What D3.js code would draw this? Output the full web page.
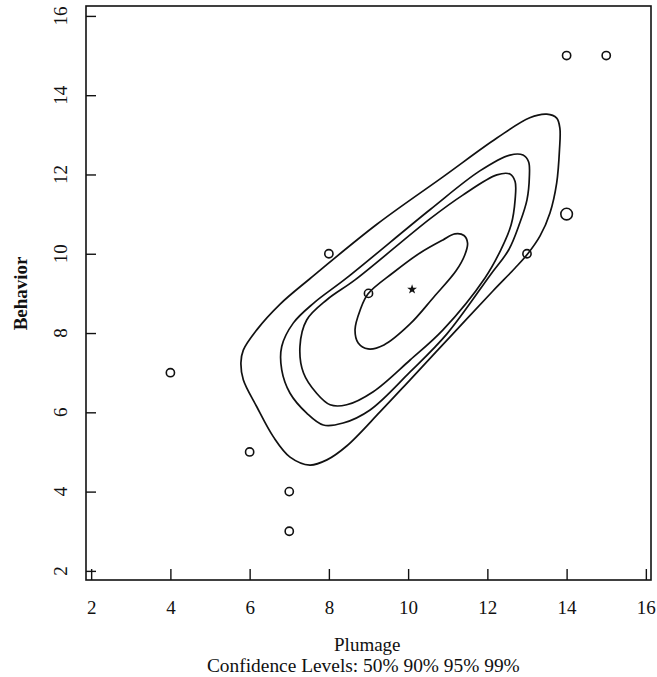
<!DOCTYPE html>
<html>
<head>
<meta charset="utf-8">
<script src="https://cdn.jsdelivr.net/npm/d3@7"></script>
<style>
  body { margin: 0; background: #fff; }
  svg text { font-family: "Liberation Serif", "DejaVu Serif", serif; fill: #111; }
</style>
</head>
<body>
<div id="chart_div"></div>
<script>
// observations (Plumage, Behavior); count = number of birds at that spot
const plumage  = [4, 6, 7, 7, 8, 9, 13, 14, 14, 15];
const behavior = [7, 5, 4, 3, 10, 9, 10, 11, 15, 15];
const counts   = [1, 1, 1, 1, 1, 1, 1, 2, 1, 1];
const centroid = [10.1, 9.1];

const xTicks = [2, 4, 6, 8, 10, 12, 14, 16];
const yTicks = [2, 4, 6, 8, 10, 12, 14, 16];
const levels = ['50%', '90%', '95%', '99%'];

// contour outlines, [plumage, behavior]
const contour50 = [[11.18,10.50],[11.41,10.46],[11.50,10.27],[11.43,9.97],[11.21,9.57],[10.65,8.91],
  [10.05,8.23],[9.39,7.70],[8.99,7.60],[8.74,7.75],[8.66,8.08],[8.79,8.58],[8.99,8.99],[9.62,9.52],
  [10.30,10.02],[10.88,10.35]];
const contour90 = [[12.24,11.99],[12.57,12.01],[12.70,11.82],[12.70,11.36],[12.60,10.73],[12.34,10.10],
  [11.94,9.39],[10.88,8.08],[10.05,7.32],[9.12,6.52],[8.45,6.19],[8.03,6.19],[7.69,6.48],[7.36,6.99],
  [7.27,7.66],[7.44,8.33],[7.95,8.84],[8.66,9.34],[10.55,10.88],[11.38,11.48]];
const contour95 = [[11.81,12.09],[12.57,12.49],[12.90,12.49],[13.04,12.32],[13.06,11.94],[13.00,11.36],
  [12.82,10.78],[12.54,10.10],[12.07,9.46],[10.98,7.98],[10.05,7.02],[9.04,6.06],[8.36,5.73],[7.86,5.68],
  [7.44,5.98],[7.02,6.48],[6.81,7.07],[6.81,7.66],[7.10,8.25],[7.61,8.75],[8.45,9.39],[10.55,11.11]];
const contour99 = [[13.50,13.52],[13.75,13.42],[13.83,13.17],[13.82,12.62],[13.75,11.79],[13.58,11.03],
  [13.33,10.45],[13.02,10.00],[12.70,9.64],[12.14,9.06],[11.13,7.98],[10.05,6.82],[9.29,6.01],[8.45,5.15],
  [7.95,4.80],[7.52,4.67],[7.02,4.87],[6.60,5.38],[6.18,6.14],[5.84,6.82],[5.78,7.25],[5.84,7.57],
  [6.18,8.08],[6.77,8.73],[7.52,9.37],[9.22,10.75],[10.88,11.94],[12.24,12.92],[13.07,13.43]];

function makePlot() {
  const width = 657, height = 677;

  const xScale = d3.scaleLinear().domain([1.87, 16.13]).range([86, 651]);
  const yScale = d3.scaleLinear().domain([1.77, 16.25]).range([580, 6]);
  const rScale = d3.scaleSqrt().domain([0, 2]).range([0, 5.8]);

  const svg = d3.select('#chart_div').append('svg')
      .attr('width', width)
      .attr('height', height);

  // frame
  svg.append('rect')
    .attr('x', xScale.range()[0])
    .attr('y', yScale.range()[1])
    .attr('width', xScale.range()[1] - xScale.range()[0])
    .attr('height', yScale.range()[0] - yScale.range()[1])
    .attr('fill', 'none')
    .attr('stroke', '#111')
    .attr('stroke-width', 1.6);

  // ticks point inward
  const xAxis = svg.append('g')
    .attr('transform', `translate(0, ${yScale.range()[0]})`)
    .call(d3.axisBottom(xScale).tickValues(xTicks).tickSize(-11).tickPadding(21));
  xAxis.select('.domain').remove();
  xAxis.selectAll('line').attr('stroke', '#111').attr('stroke-width', 1.4);
  xAxis.selectAll('text')
    .style('font-family', '"Liberation Serif", serif')
    .style('font-size', '19px')
    .attr('fill', '#111');

  const yAxis = svg.append('g')
    .attr('transform', `translate(${xScale.range()[0]}, 0)`)
    .call(d3.axisLeft(yScale).tickValues(yTicks).tickSize(-10).tickFormat(''));
  yAxis.select('.domain').remove();
  yAxis.selectAll('line').attr('stroke', '#111').attr('stroke-width', 1.4);

  svg.append('g').selectAll('text')
    .data(yTicks)
    .enter()
    .append('text')
    .attr('transform', function (d) { return `translate(67, ${yScale(d)}) rotate(-90)`; })
    .attr('text-anchor', 'middle')
    .style('font-size', '19px')
    .text(function (d) { return d; });

  // axis titles
  svg.append('text')
    .attr('transform', `translate(27, ${yScale(9.0)}) rotate(-90)`)
    .attr('text-anchor', 'middle')
    .style('font-size', '19px')
    .style('font-weight', 'bold')
    .text('Behavior');

  svg.append('text')
    .attr('x', xScale(8.97))
    .attr('y', 651)
    .attr('text-anchor', 'middle')
    .style('font-size', '19px')
    .text('Plumage');

  svg.append('text')
    .attr('x', xScale(8.87))
    .attr('y', 672)
    .attr('text-anchor', 'middle')
    .style('font-size', '19.4px')
    .text('Confidence Levels: ' + levels.join(' '));

  // contours
  const contourLine = d3.line()
      .x(function (d) { return xScale(d[0]); })
      .y(function (d) { return yScale(d[1]); })
      .curve(d3.curveCatmullRomClosed.alpha(0.5));

  svg.append('g').selectAll('path')
    .data([contour50, contour90, contour95, contour99])
    .enter()
    .append('path')
    .attr('class', function (d, i) { return `contour-${levels[i]}`; })
    .attr('fill', 'none')
    .attr('stroke', '#111')
    .attr('stroke-width', 1.7)
    .attr('d', contourLine);

  // observations
  const pts = plumage.map(function (p, i) {
    return { x: p, y: behavior[i], n: counts[i] };
  });

  svg.append('g').selectAll('circle')
    .data(pts)
    .enter()
    .append('circle')
    .attr('cx', function (d) { return xScale(d.x); })
    .attr('cy', function (d) { return yScale(d.y); })
    .attr('r', function (d) { return rScale(d.n); })
    .attr('fill', 'none')
    .attr('stroke', '#111')
    .attr('stroke-width', 1.6);

  // centroid
  svg.append('path')
    .attr('d', d3.symbol().type(d3.symbolStar).size(30)())
    .attr('transform', `translate(${xScale(centroid[0])}, ${yScale(centroid[1])})`)
    .attr('fill', '#111');
}

makePlot();
</script>
</body>
</html>
